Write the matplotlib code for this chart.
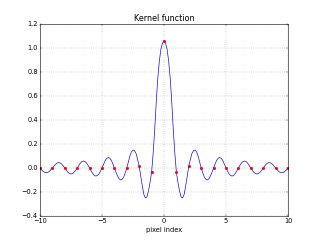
import matplotlib
matplotlib.use('Agg')
import matplotlib.pyplot as plt
import numpy as np

plt.style.use('classic')

# continuous kernel at 1/8 px steps from -10 to 10
x_fine = np.linspace(-10, 10, 161)
kernel = [
    0.0,
    -0.015, -0.028, -0.037, -0.04, -0.037, -0.028, -0.015, 0.0,
    0.016, 0.03, 0.041, 0.045, 0.042, 0.033, 0.017, 0.0,
    -0.019, -0.035, -0.046, -0.05, -0.046, -0.035, -0.02, 0.0,
    0.02, 0.04, 0.053, 0.058, 0.054, 0.042, 0.022, 0.0,
    -0.024, -0.045, -0.062, -0.067, -0.063, -0.05, -0.027, 0.0,
    0.03, 0.06, 0.08, 0.087, 0.082, 0.065, 0.035, 0.0,
    -0.035, -0.065, -0.09, -0.10, -0.095, -0.075, -0.04, 0.0,
    0.05, 0.10, 0.135, 0.15, 0.145, 0.12, 0.07, 0.015,
    -0.07, -0.15, -0.22, -0.25, -0.24, -0.19, -0.12, -0.035,
    0.12, 0.32, 0.55, 0.75, 0.89, 0.99, 1.04, 1.06,
    1.04, 0.99, 0.89, 0.75, 0.55, 0.32, 0.12, -0.035,
    -0.12, -0.19, -0.24, -0.25, -0.22, -0.15, -0.07, 0.015,
    0.07, 0.12, 0.145, 0.15, 0.135, 0.10, 0.05, 0.0,
    -0.04, -0.075, -0.095, -0.10, -0.09, -0.065, -0.035, 0.0,
    0.035, 0.065, 0.082, 0.087, 0.08, 0.06, 0.03, 0.0,
    -0.027, -0.05, -0.063, -0.067, -0.062, -0.045, -0.024, 0.0,
    0.022, 0.042, 0.054, 0.058, 0.053, 0.04, 0.02, 0.0,
    -0.02, -0.035, -0.046, -0.05, -0.046, -0.035, -0.019, 0.0,
    0.017, 0.033, 0.042, 0.045, 0.041, 0.03, 0.016, 0.0,
    -0.015, -0.028, -0.037, -0.04, -0.037, -0.028, -0.015, 0.0,
]

# sampled kernel at integer pixels
pixels = np.arange(-10, 11)
samples = [0.0] * 8 + [0.015, -0.035, 1.06, -0.035, 0.015] + [0.0] * 8

fig = plt.figure(figsize=(8, 6), dpi=40)
plt.plot(x_fine, kernel, 'b-', linewidth=1.2)
plt.plot(pixels, samples, 'r.', markersize=10)
plt.xlim(-10, 10)
plt.ylim(-0.4, 1.2)
plt.grid(True)
plt.title('Kernel function')
plt.xlabel('pixel index')
plt.savefig('out.png', dpi=40)
